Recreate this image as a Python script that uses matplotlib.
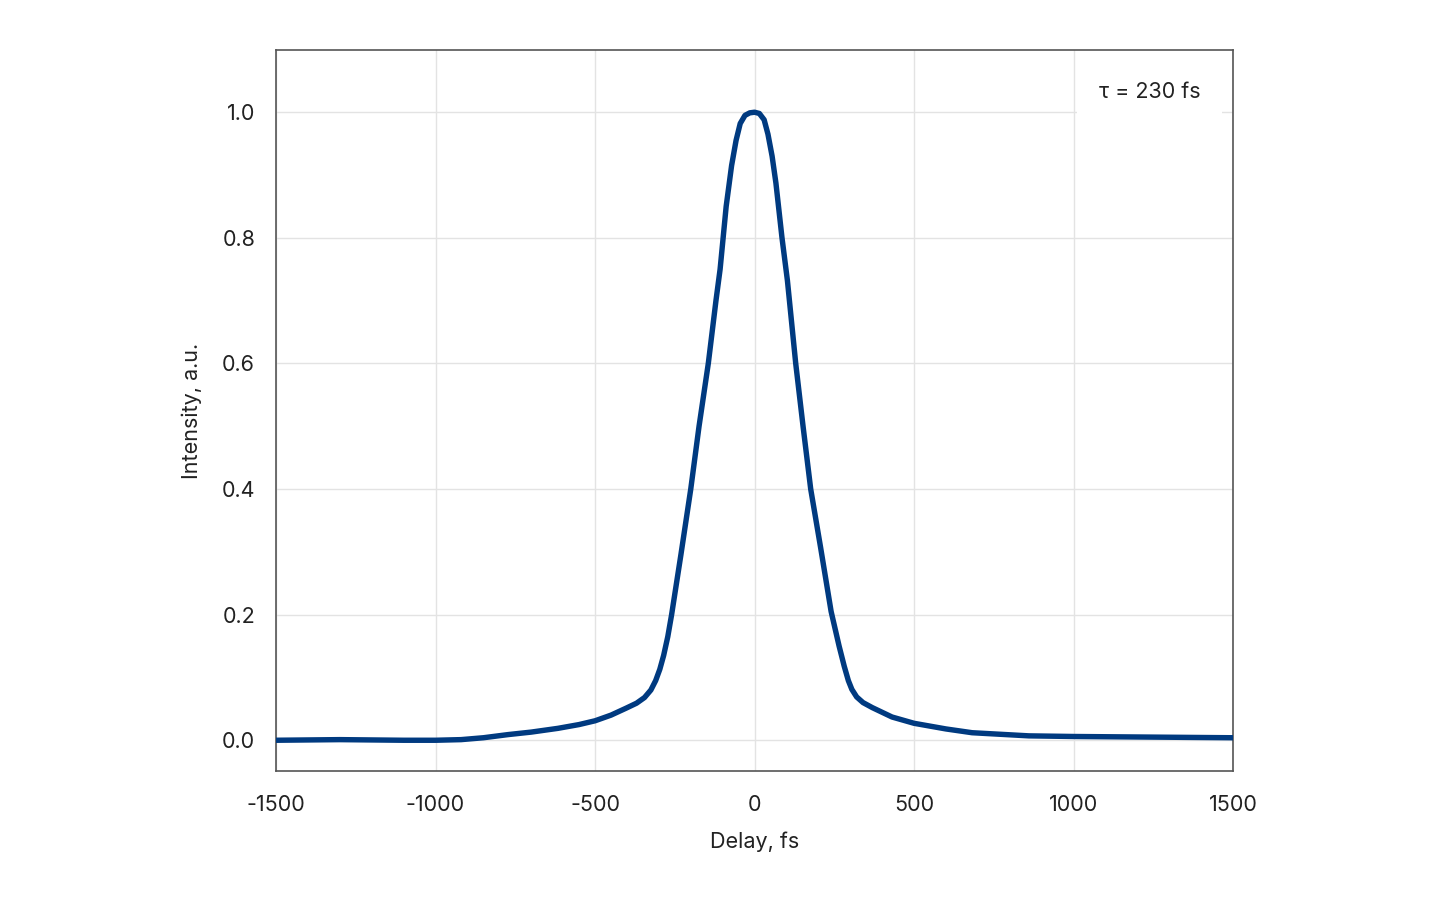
import numpy as np
import matplotlib.pyplot as plt

# autocorrelation trace
delay = [-1500, -1300, -1100, -1000, -920, -850, -773, -700, -616, -550,
         -500, -450, -403, -370, -345, -325, -310, -297, -285, -272,
         -260, -231, -200, -174, -145, -121, -108, -89, -72, -58,
         -45, -30, -15, 0, 15, 30, 42, 55, 67, 86,
         103, 129, 152, 176, 207, 240, 265, 281, 294, 305,
         320, 340, 369, 431, 500, 600, 682, 860, 1000, 1250, 1500]
intensity = [0.000, 0.001, 0.000, 0.000, 0.001, 0.004, 0.009, 0.013, 0.019, 0.025,
             0.031, 0.040, 0.051, 0.059, 0.068, 0.080, 0.095, 0.113, 0.135, 0.165,
             0.200, 0.295, 0.400, 0.500, 0.600, 0.700, 0.750, 0.850, 0.915, 0.955,
             0.982, 0.995, 0.999, 1.000, 0.998, 0.988, 0.965, 0.930, 0.887, 0.800,
             0.732, 0.600, 0.500, 0.400, 0.307, 0.205, 0.150, 0.118, 0.095, 0.081,
             0.069, 0.060, 0.052, 0.037, 0.027, 0.018, 0.012, 0.007, 0.006, 0.005, 0.004]
xticks = [-1500, -1000, -500, 0, 500, 1000, 1500]
yticks = [0.0, 0.2, 0.4, 0.6, 0.8, 1.0]
label = 'τ = 230 fs'

plt.rcParams['font.family'] = ['Inter', 'DejaVu Sans']
plt.rcParams['axes.unicode_minus'] = False

fig = plt.figure(figsize=(14.4, 9), dpi=100)
ax = fig.add_axes([0.1917, 0.1433, 0.6646, 0.8011])

ax.plot(delay, intensity, color='#003a80', lw=3.9, solid_capstyle='round',
        solid_joinstyle='round', zorder=3)

ax.set_xlim(-1500, 1500)
ax.set_ylim(-0.049, 1.099)
ax.set_xticks(xticks)
ax.set_yticks(yticks)
ax.set_xticklabels([str(t) for t in xticks])
ax.set_yticklabels([f'{t:.1f}' for t in yticks])
ax.tick_params(length=0, labelsize=15.5, colors='#222222')
ax.tick_params(axis='x', pad=17)
ax.tick_params(axis='y', pad=15)
ax.grid(True, color='#e3e3e3', lw=1)
ax.set_axisbelow(True)
for s in ax.spines.values():
    s.set_color('#555555')
    s.set_linewidth(1.2)

ax.set_xlabel('Delay, fs', fontsize=15.5, color='#222222', labelpad=12)
ax.set_ylabel('Intensity, a.u.', fontsize=15.5, color='#222222', labelpad=14)

ax.text(0.913, 0.942, label, transform=ax.transAxes, ha='center', va='center',
        fontsize=15.5, color='#222222', zorder=4,
        bbox=dict(boxstyle='square,pad=1.0', fc='white', ec='none'))

fig.savefig('out.png', dpi=100)
